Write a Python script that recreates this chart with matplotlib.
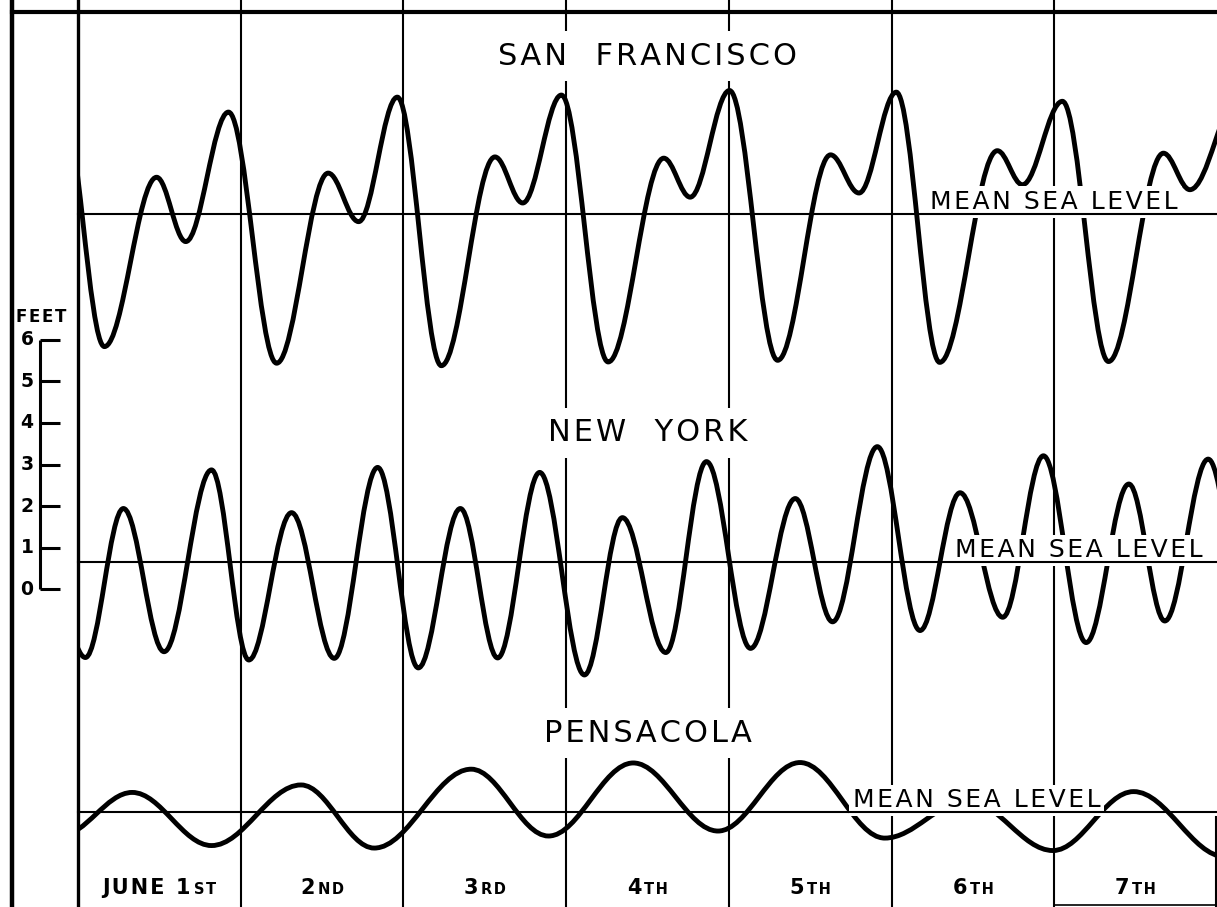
import numpy as np
import matplotlib
matplotlib.use("Agg")
import matplotlib.pyplot as plt
from matplotlib.path import Path
from matplotlib.patches import PathPatch, Rectangle
from matplotlib.offsetbox import TextArea, HPacker, AnnotationBbox

# high / low waters: hours after midnight June 1st, feet from mean sea level
sf_hours = [-2.4, 3.9, 11.6, 15.9, 22.2, 29.3, 36.9, 41.4, 47.1, 53.6, 61.5, 65.6,
            71.3, 78.2, 86.4, 90.3, 96.1, 103.2, 111.0, 115.2, 120.7, 127.1, 135.6,
            139.3, 145.2, 152.0, 160.1, 164.0, 171.4]
sf_feet = [2.75, -3.20, 0.88, -0.67, 2.45, -3.60, 0.98, -0.19, 2.81, -3.66, 1.37, 0.26,
           2.86, -3.57, 1.34, 0.40, 2.97, -3.53, 1.42, 0.50, 2.93, -3.58, 1.52,
           0.70, 2.71, -3.56, 1.46, 0.58, 2.87]

ny_hours = [-5.6, 1.1, 6.7, 12.7, 19.7, 25.2, 31.5, 37.8, 44.2, 50.2, 56.4, 61.9,
            68.1, 74.7, 80.3, 86.7, 92.7, 99.2, 105.8, 111.3, 117.9, 124.2, 130.1,
            136.4, 142.4, 148.7, 155.0, 160.3, 166.7, 172.9]
ny_feet = [1.01, -2.30, 1.29, -2.16, 2.22, -2.36, 1.19, -2.32, 2.28, -2.55, 1.29, -2.31,
           2.16, -2.72, 1.07, -2.18, 2.42, -2.08, 1.53, -1.44, 2.78, -1.65, 1.67,
           -1.33, 2.56, -1.94, 1.88, -1.42, 2.48, -1.88]

pen_hours = [-2.7, 8.0, 19.7, 32.9, 43.7, 58.0, 69.4, 81.9, 94.4, 106.5, 119.0,
             131.2, 143.8, 155.7, 169.2]
pen_feet = [-0.58, 0.47, -0.81, 0.65, -0.87, 1.03, -0.58, 1.18, -0.46, 1.19, -0.63,
            0.27, -0.93, 0.49, -1.08]

stations = ["SAN FRANCISCO", "NEW YORK", "PENSACOLA"]
msl_label = "MEAN SEA LEVEL"
day_main = ["JUNE 1", "2", "3", "4", "5", "6", "7"]
day_suffix = ["ST", "ND", "RD", "TH", "TH", "TH", "TH"]
feet_ticks = [0, 1, 2, 3, 4, 5, 6]

# where each station's mean sea level sits on the feet scale
sf_base, ny_base, pen_base = 9.04, 0.65, -5.37

fig = plt.figure(figsize=(12.17, 9.07), dpi=100)
ax = fig.add_axes([0, 0, 1, 1])
ax.set_xlim(-11.5, 168)
ax.set_ylim(-7.66, 14.19)
ax.axis("off")

n_days = len(day_main)
left_frac = 78 / 1217


def spaced(s, gap=" "):
    # wide lettering of the original drawing
    return "\u200a".join(s.replace(" ", gap))


def tide_path(hours, feet, base):
    # smooth curve through the high and low waters (flat at each turn)
    verts = [(hours[0], feet[0] + base)]
    codes = [Path.MOVETO]
    for t0, h0, t1, h1 in zip(hours[:-1], feet[:-1], hours[1:], feet[1:]):
        dt = t1 - t0
        verts += [(t0 + 0.36 * dt, h0 + base), (t1 - 0.36 * dt, h1 + base), (t1, h1 + base)]
        codes += [Path.CURVE4] * 3
    return Path(verts, codes)


clip = Rectangle((0, -20), 24 * n_days, 40, transform=ax.transData)
for hours, feet, base in [(sf_hours, sf_feet, sf_base),
                          (ny_hours, ny_feet, ny_base),
                          (pen_hours, pen_feet, pen_base)]:
    patch = PathPatch(tide_path(hours, feet, base), fill=False, ec="black", lw=3.5,
                      capstyle="round", joinstyle="round", zorder=2)
    ax.add_patch(patch)
    patch.set_clip_path(clip)
    ax.axhline(base, xmin=left_frac, xmax=1, color="black", lw=1.5, zorder=6)

# frame and day lines
ax.axvline(-9.73, color="black", lw=3.2, zorder=1)
ax.axhline(13.9, xmin=12 / 1217, xmax=1, color="black", lw=3, zorder=1)
ax.axvline(0, color="black", lw=2.4, zorder=1)
for d in range(1, n_days):
    ax.axvline(24 * d, color="black", lw=1.5, zorder=1)
ax.axvline(167.85, ymin=0, ymax=90 / 907, color="black", lw=1.5, zorder=1)
ax.axhline(-7.61, xmin=1055 / 1217, xmax=1, color="black", lw=1.2, zorder=1)

# feet scale
ax.vlines(-5.6, feet_ticks[0], feet_ticks[-1], color="black", lw=2.2)
ax.hlines(feet_ticks, -5.6, -2.65, color="black", lw=2.2)
for f in feet_ticks:
    ax.text(-6.55, f, str(f), ha="right", va="center", fontsize=13.5, fontweight="bold")
ax.text(-5.45, 6.33, spaced("FEET"), ha="center", va="bottom", fontsize=12, fontweight="bold")

# station names
box = dict(fc="white", ec="none", boxstyle="square,pad=0.35")
ax.text(84, 12.84, spaced(stations[0], "  "), ha="center", va="center", fontsize=22, bbox=box, zorder=5)
ax.text(84, 3.76, spaced(stations[1], "  "), ha="center", va="center", fontsize=22, bbox=box, zorder=5)
ax.text(84, -3.47, spaced(stations[2]), ha="center", va="center", fontsize=22, bbox=box, zorder=5)

# mean sea level labels
msl_box = dict(fc="white", ec="none", boxstyle="square,pad=0.15")
for x, base in [(125.7, sf_base), (129.4, ny_base), (114.3, pen_base)]:
    ax.text(x, base + 0.11, spaced(msl_label), ha="left", va="baseline", fontsize=18,
            bbox=msl_box, zorder=5)

# day labels
for d in range(n_days):
    packed = HPacker(children=[TextArea(spaced(day_main[d]), textprops=dict(fontsize=15, fontweight="bold")),
                               TextArea(spaced(day_suffix[d]), textprops=dict(fontsize=10.5, fontweight="bold"))],
                     align="baseline", pad=0, sep=2)
    ab = AnnotationBbox(packed, (24 * d + 12, -7.45), frameon=False,
                        box_alignment=(0.5, 0.0), pad=0)
    ax.add_artist(ab)

fig.savefig("out.png", dpi=100, facecolor="white")
